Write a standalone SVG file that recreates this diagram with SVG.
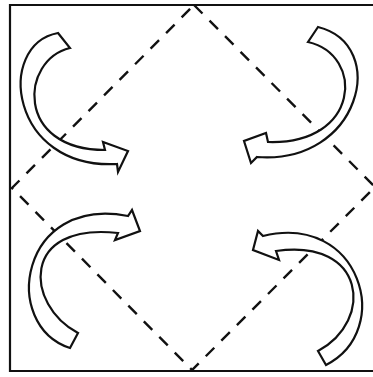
<svg xmlns="http://www.w3.org/2000/svg" width="373" height="377" viewBox="0 0 373 377">
<style>
.frame{fill:none;stroke:#111;stroke-width:2.2}
.diamond{fill:none;stroke:#111;stroke-width:2.4;stroke-dasharray:12 10}
.arrow{fill:#fff;stroke:#111;stroke-width:2.2;stroke-linejoin:miter}
</style>
<rect width="373" height="377" fill="#fff"/>
<g id="frame"><path class="frame" d="M373,5 H10 V371 H373"/></g>
<g id="connectors">
<path class="diamond" d="M194,5 L375,187 L192,370 L12,188 Z"/>
</g>
<g id="arrow-top-left">
<path class="arrow" d="M58,33 L70,48 C20,60 15,150 105,150 L103,142 L128,151 L118,172 L117,164 C10,170 -5,45 58,33 Z"/>
</g>
<g id="arrow-top-right">
<path class="arrow" d="M318,27 L308,42 C365,55 360,145 268,142 L266,133 L244,141 L251,163 L257,157 C360,165 390,45 318,27 Z"/>
</g>
<g id="arrow-bottom-left">
<path class="arrow" d="M70,348 L78,333 C25,305 20,222 118,233 L115,240 L140,231 L132,210 L128,216 C20,195 0,325 70,348 Z"/>
</g>
<g id="arrow-bottom-right">
<path class="arrow" d="M326,365 L318,351 C375,320 365,238 276,251 L279,260 L253,250 L258,231 L263,236 C360,212 395,330 326,365 Z"/>
</g>
</svg>
